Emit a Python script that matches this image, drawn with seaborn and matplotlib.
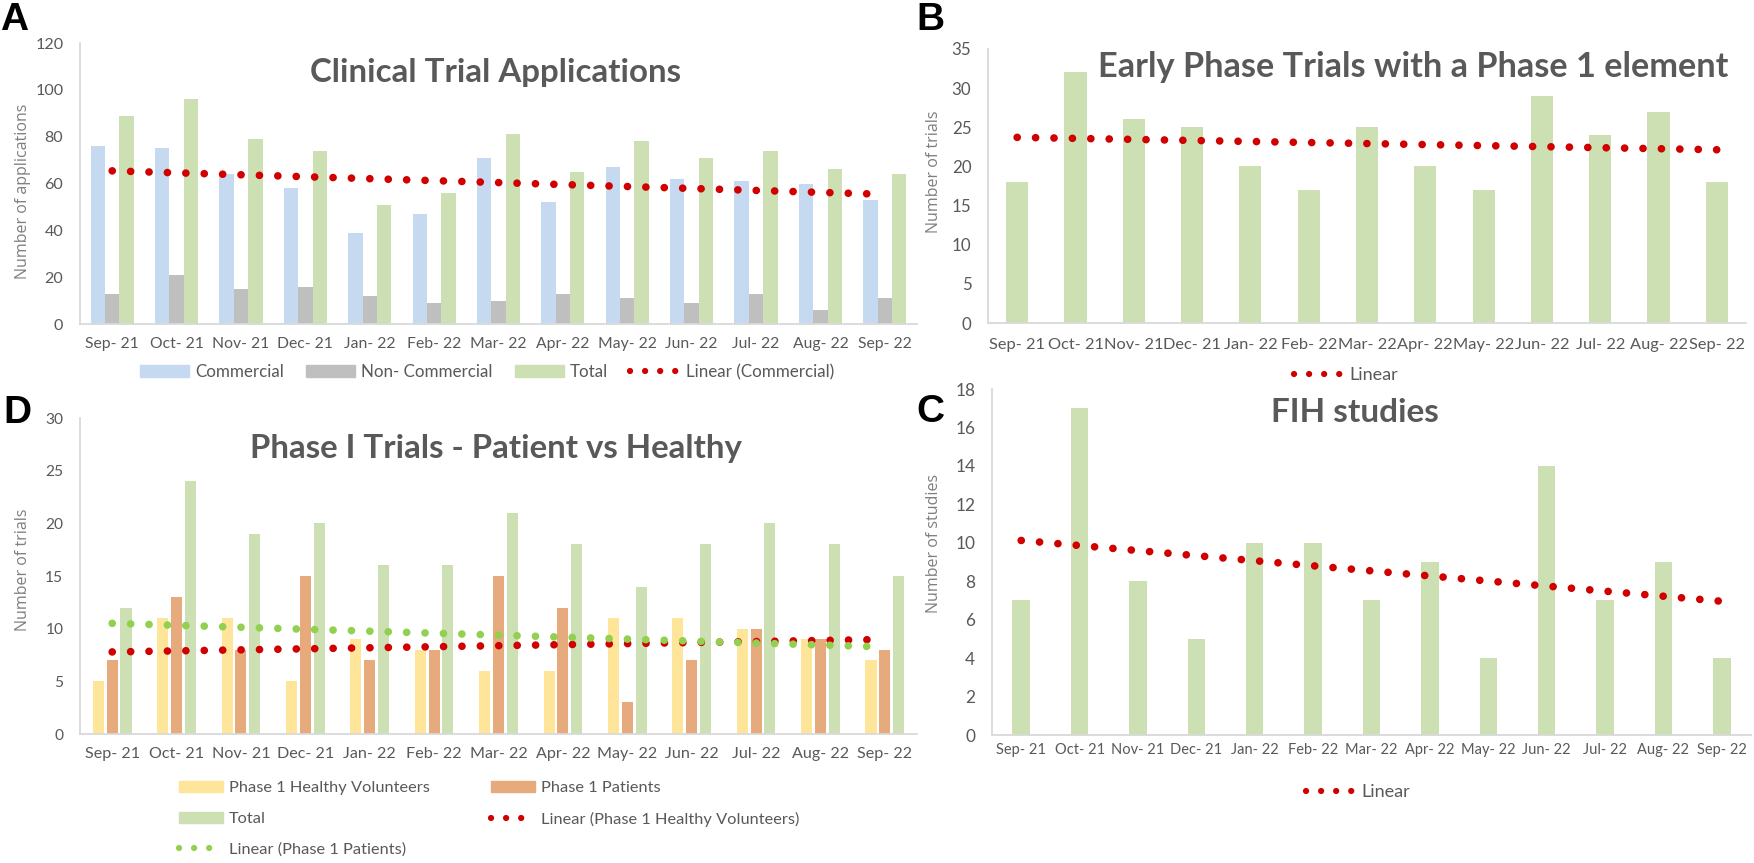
import numpy as np
import pandas as pd
import seaborn as sns
import matplotlib.pyplot as plt
from matplotlib.patches import Patch
from matplotlib.lines import Line2D

months = ["Sep- 21", "Oct- 21", "Nov- 21", "Dec- 21", "Jan- 22", "Feb- 22", "Mar- 22",
          "Apr- 22", "May- 22", "Jun- 22", "Jul- 22", "Aug- 22", "Sep- 22"]

# A - clinical trial applications
commercial = [76, 75, 64, 58, 39, 47, 71, 52, 67, 62, 61, 60, 53]
non_commercial = [13, 21, 15, 16, 12, 9, 10, 13, 11, 9, 13, 6, 11]
total_apps = [89, 96, 79, 74, 51, 56, 81, 65, 78, 71, 74, 66, 64]

# B - early phase trials with a phase 1 element
early_phase = [18, 32, 26, 25, 20, 17, 25, 20, 17, 29, 24, 27, 18]

# C - FIH studies
fih = [7, 17, 8, 5, 10, 10, 7, 9, 4, 14, 7, 9, 4]

# D - phase I patient vs healthy
healthy = [5, 11, 11, 5, 9, 8, 6, 6, 11, 11, 10, 9, 7]
patients = [7, 13, 8, 15, 7, 8, 15, 12, 3, 7, 10, 9, 8]
total_p1 = [12, 24, 19, 20, 16, 16, 21, 18, 14, 18, 20, 18, 15]

BLUE = "#C5D9F1"
GREY = "#BFBFBF"
GREEN = "#CCE0B4"
YELLOW = "#FEE599"
ORANGE = "#E6AA7D"
RED = "#D00000"
LIME = "#92D050"
TXT = "#595959"

sns.set_style("white")
plt.rcParams["font.family"] = ["Lato", "DejaVu Sans"]

W, H = 1754, 863
fig = plt.figure(figsize=(W / 100, H / 100), dpi=100)
renderer = fig.canvas.get_renderer()


def fit(text, width, **kw):
    # font size at which `text` is `width` pixels wide
    t = fig.text(0, 0, text, fontsize=20, **kw)
    w = t.get_window_extent(renderer).width
    t.remove()
    return 20 * width / w


def add_ax(left, right, top, bottom):
    return fig.add_axes([left / W, 1 - bottom / H, (right - left) / W, (bottom - top) / H])


dots = dict(linewidth=5.5, linestyle=(0, (0.01, 2.4)), dash_capstyle="round")
leg_dots = dict(linewidth=4.5, linestyle=(0, (0.01, 2.4)), dash_capstyle="round")


def trend(ax, values, color):
    sns.regplot(x=np.arange(len(values)), y=values, scatter=False, ci=None,
                truncate=True, ax=ax, line_kws=dict(color=color, **dots))


def style(ax, ymax, step, ylabel, label_xy, xwidth, ywidth, xpad):
    ax.set_xlim(-0.5, 12.5)
    ax.set_ylim(0, ymax)
    ax.set_yticks(np.arange(0, ymax + 0.01, step))
    ax.set_xlabel("")
    ax.set_ylabel(ylabel, fontsize=11.5, color="#7F7F7F", family="Open Sans", va="center")
    ax.yaxis.set_label_coords(*label_xy)
    ax.tick_params(axis="x", length=0, pad=xpad, labelsize=fit("Sep- 21", xwidth),
                   labelcolor=TXT)
    ax.tick_params(axis="y", length=0, pad=12, labelsize=fit(str(ymax), ywidth),
                   labelcolor=TXT)
    for s in ["top", "right"]:
        ax.spines[s].set_visible(False)
    for s in ["left", "bottom"]:
        ax.spines[s].set_color("#D9D9D9")
        ax.spines[s].set_linewidth(1.3)


def title(x, y, text, width):
    fig.text(x / W, 1 - y / H, text, ha="center", va="baseline",
             fontsize=fit(text, width, fontweight="bold"), fontweight="bold", color=TXT)


def letter(x, y, text):
    fig.text(x / W, 1 - y / H, text, ha="left", va="baseline", fontsize=28,
             fontweight="bold", color="black", family="Liberation Sans")


def dot_handle(color):
    return Line2D([0], [0], color=color, **leg_dots)


# ---- A
axA = add_ax(80, 917, 43, 324)
dfA = pd.DataFrame({
    "month": months * 3,
    "series": ["Commercial"] * 13 + ["Non- Commercial"] * 13 + ["Total"] * 13,
    "value": commercial + non_commercial + total_apps,
})
sns.barplot(data=dfA, x="month", y="value", hue="series", palette=[BLUE, GREY, GREEN],
            width=0.67, saturation=1, linewidth=0, edgecolor="none", legend=False, ax=axA)
trend(axA, commercial, RED)
style(axA, 120, 20, "Number of applications", (-0.068, 0.473), 54, 28, 9.5)
title(496, 82, "Clinical Trial Applications", 370)
letter(0, 30, "A")
fig.legend([Patch(color=BLUE), Patch(color=GREY), Patch(color=GREEN), dot_handle(RED)],
           ["Commercial", "Non- Commercial", "Total", "Linear (Commercial)"],
           loc="center", bbox_to_anchor=(487 / W, 1 - 372 / H), ncol=4, frameon=False,
           fontsize=fit("Commercial", 89), labelcolor=TXT, handlelength=2.9,
           handletextpad=0.35, columnspacing=1.3)

# ---- B
axB = add_ax(988, 1746, 49, 323)
sns.barplot(x=months, y=early_phase, color=GREEN, width=0.38, saturation=1,
            linewidth=0, edgecolor="none", ax=axB)
trend(axB, early_phase, RED)
style(axB, 35, 5, "Number of trials", (-0.071, 0.551), 56, 19.5, 11)
title(1413, 77, "Early Phase Trials with a Phase 1 element", 630)
letter(916, 30, "B")
fig.legend([dot_handle(RED)], ["Linear"], loc="center",
           bbox_to_anchor=(1346 / W, 1 - 375 / H), frameon=False,
           fontsize=fit("Linear", 49), labelcolor=TXT, handlelength=2.7, handletextpad=0.35)

# ---- D
axD = add_ax(80, 917, 418, 734)
dfD = pd.DataFrame({
    "month": months * 3,
    "series": ["Phase 1 Healthy Volunteers"] * 13 + ["Phase 1 Patients"] * 13 + ["Total"] * 13,
    "value": healthy + patients + total_p1,
})
sns.barplot(data=dfD, x="month", y="value", hue="series", palette=[YELLOW, ORANGE, GREEN],
            width=0.645, gap=0.2, saturation=1, linewidth=0, edgecolor="none",
            legend=False, ax=axD)
trend(axD, healthy, RED)
trend(axD, patients, LIME)
style(axD, 30, 5, "Number of trials", (-0.068, 0.519), 55, 18, 9.5)
title(496, 458, "Phase I Trials - Patient vs Healthy", 492)
letter(3, 423, "D")
fig.legend([Patch(color=YELLOW), Patch(color=GREEN), dot_handle(LIME),
            Patch(color=ORANGE), dot_handle(RED)],
           ["Phase 1 Healthy Volunteers", "Total", "Linear (Phase 1 Patients)",
            "Phase 1 Patients", "Linear (Phase 1 Healthy Volunteers)"],
           loc="center", bbox_to_anchor=(489 / W, 1 - 819 / H), ncol=2, frameon=False,
           fontsize=fit("Phase 1 Healthy Volunteers", 201), labelcolor=TXT,
           handlelength=2.7, handletextpad=0.35, columnspacing=3.7, labelspacing=1.0)

# ---- C
axC = add_ax(992, 1751, 389, 735)
sns.barplot(x=months, y=fih, color=GREEN, width=0.3, saturation=1,
            linewidth=0, edgecolor="none", ax=axC)
trend(axC, fih, RED)
style(axC, 18, 2, "Number of studies", (-0.076, 0.555), 50, 20, 6)
title(1355, 422, "FIH studies", 168)
letter(916, 422, "C")
fig.legend([dot_handle(RED)], ["Linear"], loc="center",
           bbox_to_anchor=(1358 / W, 1 - 792 / H), frameon=False,
           fontsize=fit("Linear", 49), labelcolor=TXT, handlelength=2.7, handletextpad=0.35)

fig.savefig("out.png", dpi=100)
